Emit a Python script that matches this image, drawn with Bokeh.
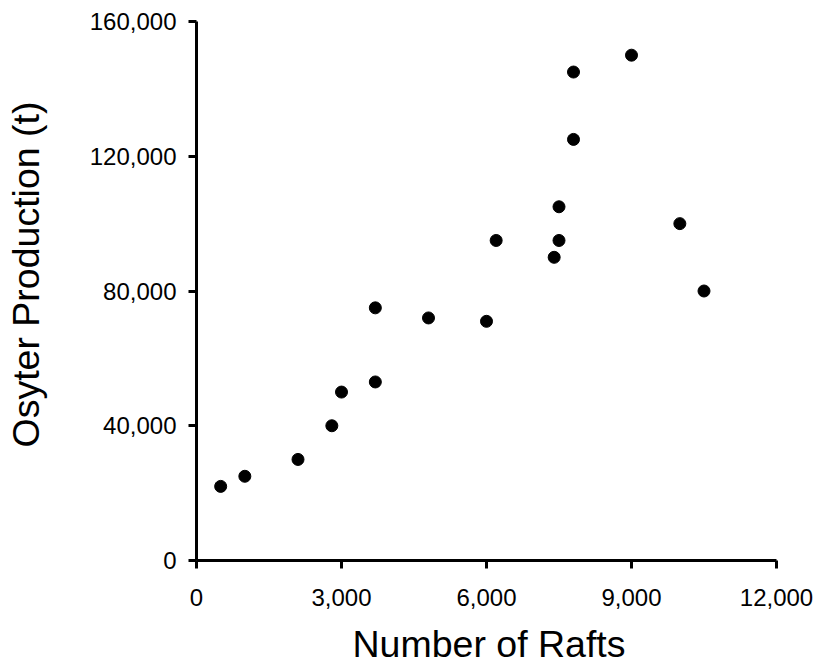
from bokeh.plotting import figure
from bokeh.models import Range1d, FixedTicker, NumeralTickFormatter, Title, LinearAxis
from bokeh.embed import file_html
from bokeh.resources import INLINE

# Data
rafts = [500, 1000, 2100, 2800, 3000, 3700, 3700, 4800, 6000, 6200,
         7400, 7500, 7500, 7800, 7800, 9000, 10000, 10500]
production = [22000, 25000, 30000, 40000, 50000, 53000, 75000, 72000, 71000, 95000,
              90000, 95000, 105000, 125000, 145000, 150000, 100000, 80000]

x_ticks = [0, 3000, 6000, 9000, 12000]
y_ticks = [0, 40000, 80000, 120000, 160000]
x_title = "Number of Rafts"
y_title = "Osyter Production (t)"

FONT = "Liberation Sans"

p = figure(width=817, height=669, output_backend="svg", toolbar_location=None,
           x_range=Range1d(0, 12000), y_range=Range1d(0, 160000),
           min_border_left=196, min_border_right=41, min_border_top=21, min_border_bottom=109)

p.background_fill_color = "white"
p.border_fill_color = "white"
p.outline_line_color = None
p.xgrid.grid_line_color = None
p.ygrid.grid_line_color = None

p.scatter(rafts, production, size=12, color="black", marker="circle")

for ax, ticks in ((p.xaxis[0], x_ticks), (p.yaxis[0], y_ticks)):
    ax.ticker = FixedTicker(ticks=ticks)
    ax.formatter = NumeralTickFormatter(format="0,0")
    ax.minor_tick_line_color = None
    ax.axis_line_width = 3
    ax.axis_line_color = "black"
    ax.major_tick_line_width = 3
    ax.major_tick_line_color = "black"
    ax.major_tick_out = 8
    ax.major_tick_in = 0
    ax.major_label_text_font = FONT
    ax.major_label_text_font_size = "24px"
    ax.major_label_text_color = "black"

p.xaxis.major_label_standoff = 20
p.yaxis.major_label_standoff = 12


def gap(size, at):
    """Blank axis (white tick on white, no label) used only as spacing before a title."""
    return LinearAxis(ticker=FixedTicker(ticks=[at]), axis_line_color=None,
                      major_tick_line_color="white", major_tick_line_width=1,
                      minor_tick_line_color=None,
                      major_label_text_color=None, major_label_text_font_size="1px",
                      major_tick_out=size, major_tick_in=0,
                      minor_tick_out=0, minor_tick_in=0, major_label_standoff=0)


p.add_layout(gap(12, x_ticks[-1]), "below")
p.add_layout(gap(40, y_ticks[-1]), "left")

# axis titles, placed along the axes as in the reference
p.add_layout(Title(text=x_title, align="left", offset=156, vertical_align="bottom",
                   standoff=0, text_font=FONT, text_font_size="37.5px",
                   text_font_style="normal", text_color="black"), "below")
p.add_layout(Title(text=y_title, align="left", offset=113, vertical_align="bottom",
                   standoff=0, text_font=FONT, text_font_size="37.5px",
                   text_font_style="normal", text_color="black"), "left")

open("out.html", "w").write(file_html(p, INLINE))
